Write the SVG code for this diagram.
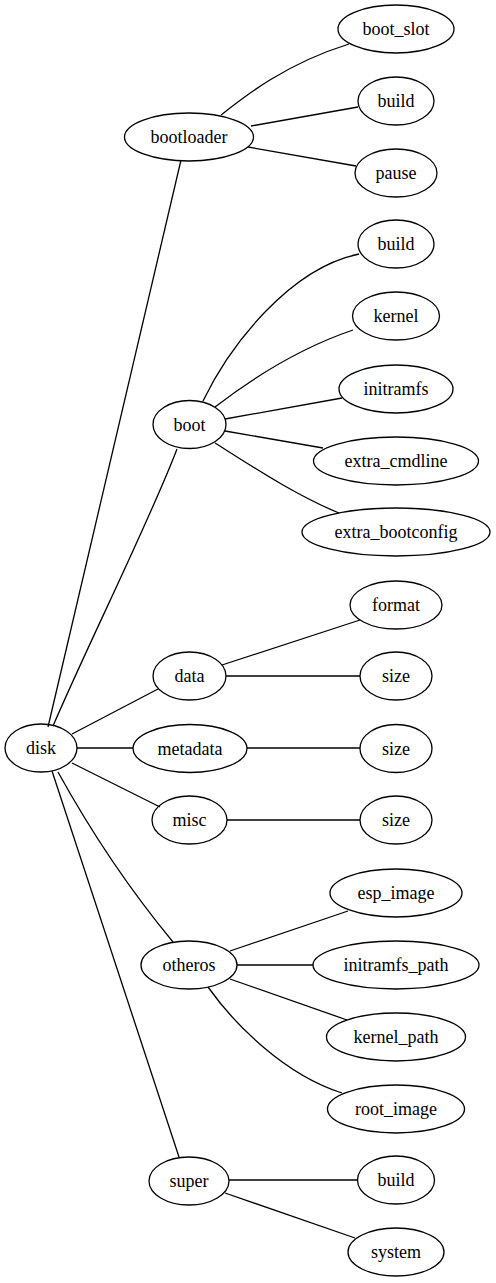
<svg xmlns="http://www.w3.org/2000/svg" width="496" height="1283" viewBox="0 0 496 1283">
<style>
ellipse{fill:none;stroke:#000;stroke-width:1.3}
text{font-size:18px;text-anchor:middle;fill:#000}
#edges path{fill:none;stroke:#000;stroke-width:1.3}
</style>
<rect width="496" height="1283" fill="#fff"/>
<g id="edges">
<path d="M181,160 L48,727"/>
<path d="M177,449 C150,520 90,640 53,726"/>
<path d="M158,689 L72,734"/>
<path d="M77,748 L133,748"/>
<path d="M72,763 L160,807"/>
<path d="M58,772 C90,830 130,890 173,942"/>
<path d="M52,771 L179,1157"/>
<path d="M221,115 C245,96 285,64 349,44"/>
<path d="M251,126 L358,107"/>
<path d="M248,147 L356,166"/>
<path d="M203,401 C230,345 290,268 359,254"/>
<path d="M215,407 C250,380 300,348 353,330"/>
<path d="M225,419 L342,398"/>
<path d="M225,431 L323,448"/>
<path d="M215,443 C250,465 295,495 339,513"/>
<path d="M222,665 L360,620"/>
<path d="M226,676 L360,676"/>
<path d="M247,748 L360,748"/>
<path d="M227,820 L360,820"/>
<path d="M230,951 L348,911"/>
<path d="M237,965 L313,965"/>
<path d="M230,979 L347,1020"/>
<path d="M208,987 C235,1025 285,1075 342,1093"/>
<path d="M229,1180 L357,1180"/>
<path d="M225,1193 L355,1238"/>
</g>
<g id="nodes" font-family="Liberation Serif, serif">
<g id="disk"><ellipse cx="41" cy="748" rx="36" ry="24"/><text x="41" y="754">disk</text></g>
<g id="bootloader"><ellipse cx="189" cy="137" rx="64.5" ry="24"/><text x="189" y="143">bootloader</text></g>
<g id="boot_slot"><ellipse cx="396" cy="29" rx="58" ry="24"/><text x="396" y="35">boot_slot</text></g>
<g id="bootloader_build"><ellipse cx="396" cy="101" rx="38" ry="24"/><text x="396" y="107">build</text></g>
<g id="pause"><ellipse cx="396" cy="173" rx="41" ry="24"/><text x="396" y="179">pause</text></g>
<g id="boot"><ellipse cx="189.5" cy="424.5" rx="36.5" ry="24"/><text x="189.5" y="430.5">boot</text></g>
<g id="boot_build"><ellipse cx="396" cy="244" rx="38" ry="24"/><text x="396" y="250">build</text></g>
<g id="kernel"><ellipse cx="396" cy="316" rx="43.5" ry="24"/><text x="396" y="322">kernel</text></g>
<g id="initramfs"><ellipse cx="396" cy="389" rx="57" ry="24"/><text x="396" y="395">initramfs</text></g>
<g id="extra_cmdline"><ellipse cx="396" cy="461" rx="82.5" ry="24"/><text x="396" y="467">extra_cmdline</text></g>
<g id="extra_bootconfig"><ellipse cx="396" cy="532" rx="94" ry="24"/><text x="396" y="538">extra_bootconfig</text></g>
<g id="data"><ellipse cx="189.5" cy="676" rx="36.5" ry="24"/><text x="189.5" y="682">data</text></g>
<g id="format"><ellipse cx="396" cy="605" rx="46" ry="24"/><text x="396" y="611">format</text></g>
<g id="data_size"><ellipse cx="396" cy="676" rx="36" ry="24"/><text x="396" y="682">size</text></g>
<g id="metadata"><ellipse cx="190" cy="748.5" rx="57" ry="24"/><text x="190" y="754.5">metadata</text></g>
<g id="metadata_size"><ellipse cx="396" cy="748.5" rx="36" ry="24"/><text x="396" y="754.5">size</text></g>
<g id="misc"><ellipse cx="189.5" cy="820" rx="37.5" ry="24"/><text x="189.5" y="826">misc</text></g>
<g id="misc_size"><ellipse cx="396" cy="820" rx="36" ry="24"/><text x="396" y="826">size</text></g>
<g id="otheros"><ellipse cx="189" cy="965" rx="48" ry="24"/><text x="189" y="971">otheros</text></g>
<g id="esp_image"><ellipse cx="396" cy="893" rx="66" ry="24"/><text x="396" y="899">esp_image</text></g>
<g id="initramfs_path"><ellipse cx="396" cy="965" rx="83" ry="24"/><text x="396" y="971">initramfs_path</text></g>
<g id="kernel_path"><ellipse cx="396" cy="1037" rx="69.5" ry="24"/><text x="396" y="1043">kernel_path</text></g>
<g id="root_image"><ellipse cx="396" cy="1109" rx="68.5" ry="24"/><text x="396" y="1115">root_image</text></g>
<g id="super"><ellipse cx="189" cy="1181" rx="40" ry="24"/><text x="189" y="1187">super</text></g>
<g id="super_build"><ellipse cx="396" cy="1180" rx="38.5" ry="24"/><text x="396" y="1186">build</text></g>
<g id="system"><ellipse cx="396" cy="1252" rx="48" ry="24"/><text x="396" y="1258">system</text></g>
</g>
</svg>
